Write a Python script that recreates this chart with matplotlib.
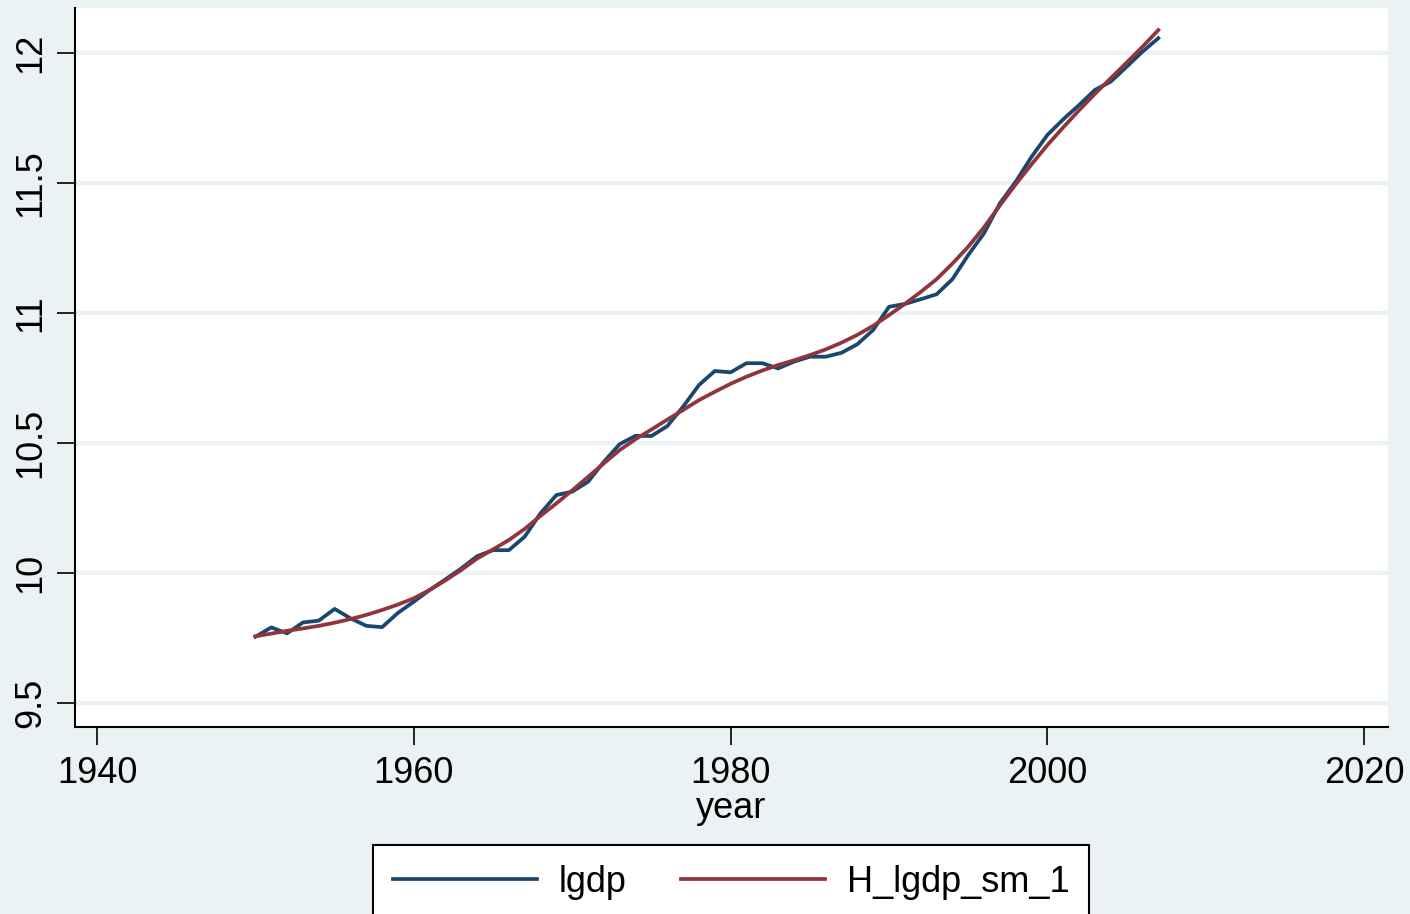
import numpy as np
import matplotlib
matplotlib.use("Agg")
import matplotlib.pyplot as plt

plt.rcParams['font.family'] = ['Liberation Sans', 'DejaVu Sans']

years = list(range(1950, 2008))

lgdp = [9.755, 9.791, 9.768, 9.810, 9.817, 9.862, 9.826, 9.797, 9.792, 9.847,
        9.890, 9.935, 9.976, 10.018, 10.065, 10.088, 10.088, 10.140, 10.230, 10.300,
        10.313, 10.351, 10.428, 10.496, 10.528, 10.527, 10.565, 10.640, 10.723, 10.777,
        10.772, 10.807, 10.807, 10.787, 10.813, 10.832, 10.832, 10.847, 10.880, 10.935,
        11.024, 11.035, 11.053, 11.072, 11.130, 11.223, 11.307, 11.422, 11.505, 11.601,
        11.685, 11.745, 11.800, 11.858, 11.890, 11.947, 12.005, 12.057]

lgdp_sm = [9.757, 9.767, 9.778, 9.787, 9.797, 9.809, 9.823, 9.839, 9.858, 9.879,
           9.903, 9.935, 9.972, 10.012, 10.056, 10.091, 10.127, 10.170, 10.220, 10.268,
           10.318, 10.370, 10.422, 10.473, 10.515, 10.552, 10.590, 10.627, 10.665, 10.697,
           10.728, 10.755, 10.779, 10.800, 10.818, 10.838, 10.860, 10.886, 10.916, 10.951,
           10.992, 11.035, 11.081, 11.130, 11.190, 11.255, 11.330, 11.414, 11.495, 11.572,
           11.646, 11.714, 11.780, 11.843, 11.903, 11.963, 12.024, 12.088]

xticks = [1940, 1960, 1980, 2000, 2020]
yticks = [9.5, 10, 10.5, 11, 11.5, 12]
ytick_labels = ['9.5', '10', '10.5', '11', '11.5', '12']

bg = '#eaf2f3'
navy = '#1a476f'
maroon = '#90353b'
fs = 26

fig = plt.figure(figsize=(14.1, 9.14), dpi=100, facecolor=bg)
ax = fig.add_axes([75/1410, 1 - 727/914, (1388-75)/1410, (727-8)/914])
ax.set_facecolor('white')

ax.plot(years, lgdp, color=navy, lw=2.7, label='lgdp')
ax.plot(years, lgdp_sm, color=maroon, lw=2.7, label='H_lgdp_sm_1')

ax.set_xlim(1938.61, 2021.5)
ax.set_ylim(9.408, 12.173)
ax.set_xticks(xticks)
ax.set_yticks(yticks)
ax.set_yticklabels(ytick_labels, rotation=90, va='center')
ax.tick_params(axis='both', labelsize=fs, length=13, width=1.2, color='black', pad=8)
ax.tick_params(axis='y', pad=6)
ax.grid(axis='y', color=bg, lw=3)
ax.set_axisbelow(True)

for s in ['top', 'right']:
    ax.spines[s].set_visible(False)
for s in ['left', 'bottom']:
    ax.spines[s].set_linewidth(1.5)

ax.set_xlabel('year', fontsize=fs, labelpad=0)

leg = fig.legend(loc='upper center', bbox_to_anchor=(731/1410, 1 - 845/914), ncol=2,
                 fontsize=fs, frameon=True, fancybox=False, handlelength=4.0,
                 handletextpad=0.6, columnspacing=1.5, borderpad=0.55,
                 borderaxespad=0)
leg.get_frame().set_edgecolor('black')
leg.get_frame().set_linewidth(1.5)
leg.get_frame().set_facecolor('white')
leg.get_frame().set_alpha(1)

fig.savefig('out.png', dpi=100, facecolor=bg)
